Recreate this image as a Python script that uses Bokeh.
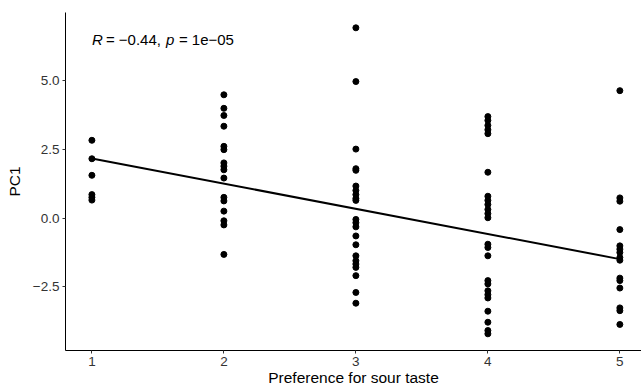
from bokeh.plotting import figure
from bokeh.models import Range1d, FixedTicker, Label
from bokeh.embed import file_html
from bokeh.resources import INLINE

# Data
pref_1 = [2.82, 2.15, 1.55, 0.85, 0.75, 0.65]
pref_2 = [4.47, 3.98, 3.72, 3.33, 2.60, 2.48, 2.00, 1.88, 1.75, 1.45, 0.75, 0.62, 0.25, -0.10, -0.25, -1.32]
pref_3 = [6.90, 4.95, 2.50, 1.79, 1.73, 1.16, 1.00, 0.85, 0.71, 0.64, -0.05, -0.17, -0.32, -0.65,
          -0.97, -1.37, -1.55, -1.67, -1.79, -2.09, -2.70, -3.09]
pref_4 = [3.68, 3.54, 3.36, 3.20, 3.06, 1.66, 0.79, 0.64, 0.49, 0.31, 0.16, 0.01, -0.95, -1.07,
          -1.37, -2.27, -2.39, -2.64, -2.78, -2.90, -3.38, -3.78, -4.08, -4.20]
pref_5 = [4.62, 0.73, 0.61, -0.42, -1.01, -1.13, -1.25, -1.43, -1.53, -2.18, -2.27, -2.54, -3.26, -3.36, -3.86]
categories = [1, 2, 3, 4, 5]
fit_x = [1, 5]
fit_y = [2.16, -1.49]
y_ticks = [-2.5, 0.0, 2.5, 5.0]
y_tick_labels = ["\u22122.5", "0.0", "2.5", "5.0"]
annot_parts = [("R", "italic"), ("= \u22120.44,", "normal"), ("p", "italic"), ("= 1e\u221205", "normal")]

groups = [pref_1, pref_2, pref_3, pref_4, pref_5]
xs, ys = [], []
for c, g in zip(categories, groups):
    xs += [c] * len(g)
    ys += g

ymin, ymax = min(ys), max(ys)
ypad = 0.05 * (ymax - ymin)

FONT = "Liberation Sans"

p = figure(width=641, height=390, output_backend="svg", toolbar_location=None,
           min_border_left=65, min_border_right=0, min_border_top=12, min_border_bottom=40,
           x_range=Range1d(0.8, 5.164), y_range=Range1d(ymin - ypad - 0.05, ymax + ypad),
           background_fill_color="white", border_fill_color="white")
p.outline_line_color = None
p.grid.visible = False

p.scatter(xs, ys, size=6, color="black")
p.line(fit_x, fit_y, line_width=2, color="black")

# axes
for ax in (p.xaxis[0], p.yaxis[0]):
    ax.axis_line_color = "black"
    ax.axis_line_width = 1
    ax.major_tick_line_color = "#333333"
    ax.major_tick_in = 0
    ax.major_tick_out = 3
    ax.minor_tick_line_color = None
    ax.major_label_text_font = FONT
    ax.major_label_text_font_size = "13.5px"
    ax.major_label_text_color = "#333333"
    ax.axis_label_text_font = FONT
    ax.axis_label_text_font_size = "15.5px"
    ax.axis_label_text_font_style = "normal"
    ax.axis_label_text_color = "black"

p.xaxis.ticker = FixedTicker(ticks=categories)
p.xaxis.axis_label = "Preference for sour taste"
p.xaxis.major_label_standoff = 3
p.xaxis.axis_label_standoff = 0

p.yaxis.ticker = FixedTicker(ticks=y_ticks)
p.yaxis.major_label_overrides = {t: l for t, l in zip(y_ticks, y_tick_labels)}
p.yaxis.axis_label = "PC1"
p.yaxis.major_label_standoff = 3
p.yaxis.axis_label_standoff = 7

# correlation annotation (mixed italic), anchored at min category / max value
offsets = [0, 14, 74, 87]
for (txt, style), off in zip(annot_parts, offsets):
    lab = Label(x=min(categories), y=ymax, x_units="data", y_units="data",
                x_offset=off, y_offset=-12,
                text=txt, text_font=FONT, text_font_size="15px", text_font_style=style,
                text_color="black", text_baseline="middle", text_align="left")
    p.add_layout(lab)

open("out.html", "w").write(file_html(p, INLINE))
